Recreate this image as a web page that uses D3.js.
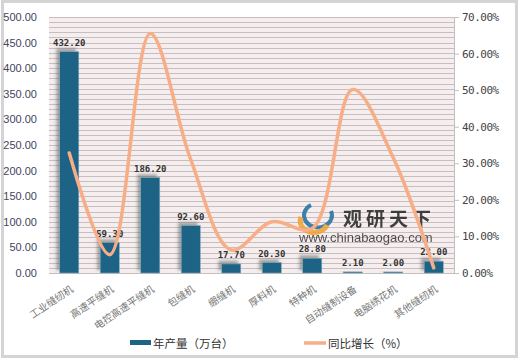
<!DOCTYPE html>
<html>
<head>
<meta charset="utf-8">
<script src="https://cdn.jsdelivr.net/npm/d3@7"></script>
<style>
  body { margin: 0; background: #fff; }
  svg { display: block; font-family: "Liberation Sans", Arial, sans-serif; }
</style>
</head>
<body>
<div id="chart"></div>
<script>
// 缝纫机产量与同比增长
var categories = ["工业缝纫机", "高速平缝机", "电控高速平缝机", "包缝机", "绷缝机",
                  "厚料机", "特种机", "自动缝制设备", "电脑绣花机", "其他缝纫机"];
var output = [432.2, 59.3, 186.2, 92.6, 17.7, 20.3, 28.8, 2.1, 2.0, 23.0];
var growth = [32.8, 5.0, 65.5, 31.0, 6.3, 14.0, 12.2, 50.2, 31.5, 1.4];
var leftTicks = [0, 50, 100, 150, 200, 250, 300, 350, 400, 450, 500];
var rightTicks = [0, 10, 20, 30, 40, 50, 60, 70];

var W = 520, H = 359;
var margin = {top: 17, right: 66, bottom: 86, left: 49},
    width = W - margin.left - margin.right,
    height = H - margin.top - margin.bottom;

var svg = d3.select("#chart").append("svg")
    .attr("width", W)
    .attr("height", H);

var defs = svg.append("defs");
var shadow = defs.append("filter").attr("id", "shadow")
    .attr("x", "-50%").attr("y", "-50%").attr("width", "200%").attr("height", "200%");
shadow.append("feDropShadow")
    .attr("dx", -3).attr("dy", -3).attr("stdDeviation", 1.5)
    .attr("flood-color", "#555").attr("flood-opacity", 0.5);

// outer frame
svg.append("rect")
    .attr("x", 2.5).attr("y", 1.5).attr("width", W - 6).attr("height", H - 4)
    .attr("fill", "#fff").attr("stroke", "#d4d4d4").attr("stroke-width", 3);

var g = svg.append("g")
    .attr("transform", "translate(" + margin.left + "," + margin.top + ")");

var x = d3.scaleBand().domain(categories).range([0, width]).paddingInner(0.53).paddingOuter(0.265);
var y = d3.scaleLinear().domain([0, 500]).range([height, 0]);
var y2 = d3.scaleLinear().domain([0, 70]).range([height, 0]);

// plot background and dense grid
g.append("rect").attr("width", width).attr("height", height).attr("fill", "#f6eeee");
g.append("g").selectAll("line")
    .data(d3.range(0, 501, 10))
    .join("line")
    .attr("x1", 0).attr("x2", width)
    .attr("y1", function(d) { return Math.round(y(d)) + 0.5; })
    .attr("y2", function(d) { return Math.round(y(d)) + 0.5; })
    .attr("stroke", "#c6bfbf").attr("stroke-width", 1);

// left axis
var yAxis = d3.axisLeft(y).tickValues(leftTicks).tickSize(0).tickPadding(12)
    .tickFormat(d3.format(".2f"));
g.append("g").attr("class", "y axis").call(yAxis)
  .call(function(s) { s.select(".domain").remove(); })
  .selectAll("text")
    .attr("fill", "#44445e").style("font-size", "11px");

// right axis
var yAxis2 = d3.axisRight(y2).tickValues(rightTicks).tickSize(5).tickPadding(3)
    .tickFormat(function(d) { return d3.format(".2f")(d) + "%"; });
var ra = g.append("g").attr("class", "y2 axis")
    .attr("transform", "translate(" + width + ",0)")
    .call(yAxis2);
ra.select(".domain").attr("stroke", "#bfbfbf");
ra.selectAll("line").attr("stroke", "#bfbfbf");
ra.selectAll("text").attr("fill", "#444").style("font-size", "11px")
    .style("font-family", "'DejaVu Sans Mono', monospace").style("letter-spacing", "-0.5px");

// bars
g.append("g").selectAll("rect")
    .data(output)
    .join("rect")
    .attr("x", function(d, i) { return x(categories[i]); })
    .attr("y", function(d) { return y(d); })
    .attr("width", x.bandwidth())
    .attr("height", function(d) { return height - y(d); })
    .attr("fill", "#1c6486")
    .attr("stroke", "#7fa8bc").attr("stroke-width", 0.6)
    .attr("filter", "url(#shadow)");

// bar value labels
g.append("g").selectAll("text")
    .data(output)
    .join("text")
    .attr("x", function(d, i) { return x(categories[i]) + x.bandwidth() / 2; })
    .attr("y", function(d) { return y(d) - 6; })
    .attr("text-anchor", "middle")
    .style("font-family", "'DejaVu Sans Mono', monospace")
    .style("font-size", "9px").style("font-weight", "bold")
    .attr("fill", "#333")
    .text(function(d) { return d3.format(".2f")(d); });

// x labels
g.append("g").selectAll("text")
    .data(categories)
    .join("text")
    .attr("transform", function(d) {
      return "translate(" + (x(d) + x.bandwidth() / 2 + 1) + "," + (height + 12) + ") rotate(-34)";
    })
    .attr("text-anchor", "end")
    .attr("dy", "0.7em")
    .style("font-family", "'Noto Sans CJK SC', sans-serif")
    .style("font-size", "10px")
    .attr("fill", "#777")
    .text(function(d) { return d; });

// watermark
var wm = g.append("g").attr("opacity", 0.85);
wm.append("path")
    .attr("d", "M262,188 A14,12 0 1,0 282,194")
    .attr("fill", "none").attr("stroke", "#1f6fa0").attr("stroke-width", 4);
wm.append("path")
    .attr("d", "M252,200 A12,10 0 0,0 278,208")
    .attr("fill", "none").attr("stroke", "#f0a030").attr("stroke-width", 5);
wm.append("text").attr("x", 294).attr("y", 209)
    .style("font-family", "'Noto Sans CJK SC', sans-serif").style("font-size", "19px").style("font-weight", "bold")
    .attr("fill", "#222").attr("letter-spacing", "4px")
    .text("观研天下");
wm.append("text").attr("x", 250).attr("y", 225)
    .style("font-size", "13px").attr("fill", "#333")
    .text("www.chinabaogao.com");

// growth line
var line = d3.line()
    .x(function(d, i) { return x(categories[i]) + x.bandwidth() / 2; })
    .y(function(d) { return y2(d); })
    .curve(d3.curveCatmullRom.alpha(0.5));

g.append("path")
    .datum(growth)
    .attr("class", "line")
    .attr("fill", "none")
    .attr("stroke", "#f7ae86")
    .attr("stroke-width", 3.5)
    .attr("stroke-linecap", "round")
    .attr("d", line);

// legend
var legend = svg.append("g").attr("transform", "translate(0,343)");
legend.append("rect").attr("x", 130).attr("y", -3).attr("width", 21).attr("height", 5).attr("fill", "#1c6486");
legend.append("text").attr("x", 153).attr("y", 5)
    .style("font-family", "'Noto Sans CJK SC', sans-serif").style("font-size", "11.5px").attr("fill", "#333")
    .text("年产量（万台）");
legend.append("line").attr("x1", 304).attr("x2", 326).attr("y1", 0).attr("y2", 0)
    .attr("stroke", "#f7ae86").attr("stroke-width", 3.5);
legend.append("text").attr("x", 328).attr("y", 5)
    .style("font-family", "'Noto Sans CJK SC', sans-serif").style("font-size", "11.5px").attr("fill", "#333")
    .text("同比增长（%）");
</script>
</body>
</html>
